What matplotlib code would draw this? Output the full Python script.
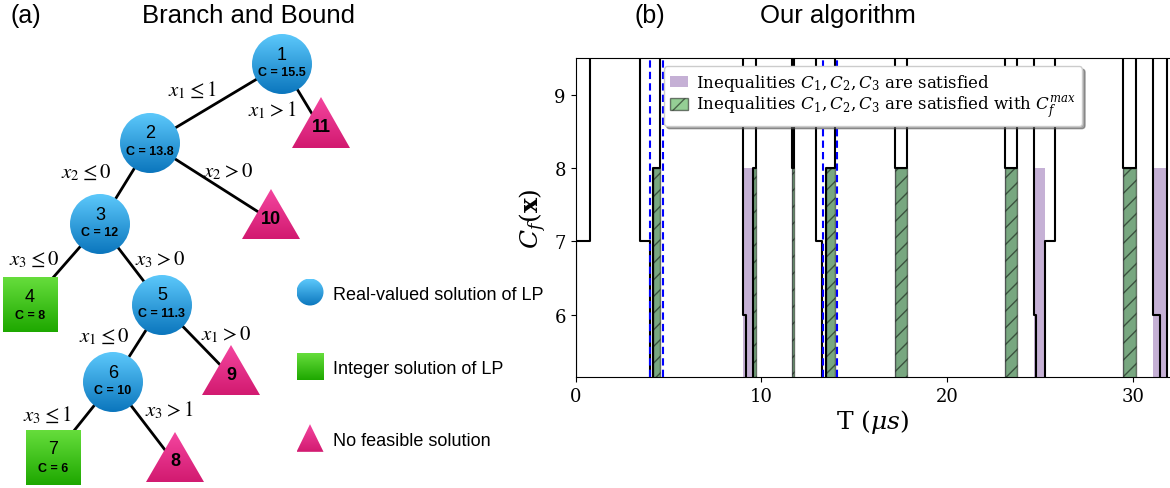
import numpy as np
import matplotlib
matplotlib.use("Agg")
import matplotlib.pyplot as plt
from matplotlib.patches import Circle, Rectangle, Polygon, Patch
from matplotlib.colors import LinearSegmentedColormap

# ---------------- data: branch and bound tree ----------------
node_ids = [1, 2, 3, 4, 5, 6, 7, 8, 9, 10, 11]
node_kind = ["real", "real", "real", "int", "real", "real", "int", "none", "none", "none", "none"]
node_cost = ["15.5", "13.8", "12", "8", "11.3", "10", "6", "", "", "", ""]
edges = [(1, 2), (1, 11), (2, 3), (2, 10), (3, 4), (3, 5), (5, 6), (5, 9), (6, 7), (6, 8)]
edge_labels = [r"$x_1 \leq 1$", r"$x_1 > 1$", r"$x_2 \leq 0$", r"$x_2 > 0$", r"$x_3 \leq 0$",
               r"$x_3 > 0$", r"$x_1 \leq 0$", r"$x_1 > 0$", r"$x_3 \leq 1$", r"$x_3 > 1$"]
legend_kinds = ["real", "int", "none"]
legend_texts = ["Real-valued solution of LP", "Integer solution of LP", "No feasible solution"]

# ---------------- data: our algorithm ----------------
# step curve of C_f(x) (value holds from each T to the next); 10 = above plot, 5 = below plot
T_steps = [-1, 0, 0.78, 3.48, 4.0, 4.15, 4.54, 9.02, 9.17, 9.56, 9.69, 11.63, 11.75,
           12.91, 13.27, 13.45, 13.97, 17.2, 17.84, 23.09, 23.72, 24.65, 24.74, 25.24,
           25.78, 29.45, 30.12, 31.05, 31.43, 31.8, 33]
Cf_steps = [5, 7, 10, 7, 5, 8, 10, 6, 5, 8, 10, 8, 10,
            7, 5, 8, 10, 8, 10, 8, 10, 6, 5, 7,
            10, 8, 10, 6, 5, 10, 10]
sat_only = [(9.02, 9.56), (24.67, 25.24), (31.05, 31.8)]
sat_max = [(4.15, 4.55), (9.56, 9.69), (11.63, 11.75), (13.45, 13.97),
           (17.2, 17.84), (23.09, 23.72), (29.45, 30.12)]
Cf_max = 8
blue_lines = [4.0, 4.69, 13.29, 14.08]
x_ticks = [0, 10, 20, 30]
y_ticks = [6, 7, 8, 9]

# ---------------- layout (pixel coordinates of the left diagram) ----------------
circle_pos = {1: (282, 65), 2: (150, 144), 3: (100, 225), 5: (162, 306), 6: (113, 383)}
square_pos = {4: (30, 305), 7: (53, 458)}
tri_pos = {11: (321, 98, 149), 10: (271, 190, 240), 9: (231, 346, 396), 8: (175, 433, 483)}
label_pos = [(192, 90), (272, 110), (86, 173), (228, 172), (34, 260),
             (160, 260), (104, 337), (226, 335), (47, 415), (169, 410)]
R = 30
SQ = 55

cmaps = {
    "real": LinearSegmentedColormap.from_list("b", ["#5cc8fb", "#0b76bd"]),
    "int": LinearSegmentedColormap.from_list("g", ["#66dd3c", "#1ea800"]),
    "none": LinearSegmentedColormap.from_list("p", ["#f4459f", "#d21a70"]),
}
grad = np.linspace(0, 1, 100).reshape(-1, 1)
SANS = "Liberation Sans"
SERIF = "DejaVu Serif"

W, H = 1170, 489
fig = plt.figure(figsize=(W / 100, H / 100), dpi=100)

axL = fig.add_axes([0, 0, 573 / W, 1])
axL.set_xlim(0, 573)
axL.set_ylim(H, 0)
axL.axis("off")


def shaded(ax, patch, kind, bbox, z=3):
    patch.set_facecolor("none")
    patch.set_edgecolor("none")
    patch.set_zorder(z)
    ax.add_patch(patch)
    x0, x1, y0, y1 = bbox
    im = ax.imshow(grad, extent=(x0, x1, y1, y0), cmap=cmaps[kind], aspect="auto",
                   zorder=z, interpolation="bilinear")
    im.set_clip_path(patch)


def make_shape(kind, cx, cy, size):
    h = size / 2
    if kind == "real":
        return Circle((cx, cy), h), (cx - h, cx + h, cy - h, cy + h)
    if kind == "int":
        return Rectangle((cx - h, cy - h), size, size), (cx - h, cx + h, cy - h, cy + h)
    top, bot = cy - h * 1.1, cy + h * 0.95
    return (Polygon([(cx - h, bot), (cx + h, bot), (cx, top)], closed=True),
            (cx - h, cx + h, top, bot))


def anchor(n):
    if n in circle_pos:
        return circle_pos[n]
    if n in square_pos:
        return square_pos[n]
    cx, top, bot = tri_pos[n]
    return cx, top + 0.62 * (bot - top)


# edges
for (a, b), lab, (lx, ly) in zip(edges, edge_labels, label_pos):
    xa, ya = anchor(a)
    xb, yb = anchor(b)
    axL.plot([xa, xb], [ya, yb], color="black", lw=2, zorder=1, solid_capstyle="butt")
    axL.text(lx, ly, lab, fontsize=15, ha="center", va="center", zorder=5,
             math_fontfamily="stix")

# nodes
for n, kind, cost in zip(node_ids, node_kind, node_cost):
    if kind == "real":
        cx, cy = circle_pos[n]
        shaded(axL, Circle((cx, cy), R), kind, (cx - R, cx + R, cy - R, cy + R))
        axL.text(cx, cy - 10, str(n), fontsize=13, ha="center", va="center", family=SANS, zorder=6)
        axL.text(cx, cy + 8, "C = " + cost, fontsize=9, fontweight="bold", ha="center",
                 va="center", family=SANS, zorder=6)
    elif kind == "int":
        cx, cy = square_pos[n]
        h = SQ / 2
        shaded(axL, Rectangle((cx - h, cy - h), SQ, SQ), kind, (cx - h, cx + h, cy - h, cy + h))
        axL.text(cx, cy - 8, str(n), fontsize=13, ha="center", va="center", family=SANS, zorder=6)
        axL.text(cx, cy + 11, "C = " + cost, fontsize=9, fontweight="bold", ha="center",
                 va="center", family=SANS, zorder=6)
    else:
        cx, top, bot = tri_pos[n]
        h = 29
        shaded(axL, Polygon([(cx - h, bot), (cx + h, bot), (cx, top)], closed=True), kind,
               (cx - h, cx + h, top, bot))
        axL.text(cx, bot - 21, str(n), fontsize=13, fontweight="bold", ha="center",
                 va="center", family=SANS, zorder=6)

# legend of the diagram
for kind, txt, ly in zip(legend_kinds, legend_texts, [293, 367, 440]):
    shape, bb = make_shape(kind, 310, ly, 27)
    shaded(axL, shape, kind, bb)
    axL.text(333, ly + 2, txt, fontsize=13, ha="left", va="center", family=SANS)

axL.set_xlim(0, 573)
axL.set_ylim(H, 0)

# ---------------- right panel ----------------
plt.rcParams["mathtext.fontset"] = "dejavuserif"
axR = fig.add_axes([575.5 / W, 1 - 378 / H, (1170.5 - 575.5) / W, (378 - 59) / H])
purple = "#c5b0d5"
for a, b in sat_only + sat_max:
    axR.fill_between([a, b], 0, Cf_max, color=purple, lw=0, zorder=1)
for a, b in sat_max:
    axR.fill_between([a, b], 0, Cf_max, facecolor="tab:green", edgecolor="k",
                     alpha=0.5, hatch="//", lw=1, zorder=2)
axR.step(T_steps, Cf_steps, where="post", color="black", lw=1.5, zorder=3)
for xv in blue_lines:
    axR.axvline(xv, color="blue", ls=(0, (3.5, 2)), lw=1.5, zorder=4)

axR.set_xlim(0, 32)
axR.set_ylim(5.15, 9.5)
axR.set_xticks(x_ticks, labels=[str(v) for v in x_ticks], fontfamily=SERIF, fontsize=13)
axR.set_yticks(y_ticks, labels=[str(v) for v in y_ticks], fontfamily=SERIF, fontsize=13)
axR.set_xlabel(r"T ($\mu s$)", fontsize=18, family=SERIF, labelpad=2)
axR.set_ylabel(r"$C_f(\mathbf{x})$", fontsize=18, labelpad=4)

handles = [Patch(facecolor=purple, edgecolor="none"),
           Patch(facecolor="tab:green", edgecolor="k", alpha=0.5, hatch="//")]
labels = [r"Inequalities $C_1, C_2, C_3$ are satisfied",
          r"Inequalities $C_1, C_2, C_3$ are satisfied with $C_f^{max}$"]
leg = axR.legend(handles, labels, loc="upper center", shadow=True, framealpha=1,
                 prop={"family": SERIF, "size": 12}, handlelength=1.1,
                 handletextpad=0.5, borderaxespad=0.5, labelspacing=0.05,
                 borderpad=0.35)
leg.set_zorder(10)

# titles
fig.text(10 / W, 1 - 16 / H, "(a)", fontsize=18, family=SANS, va="center", ha="left")
fig.text(248 / W, 1 - 16 / H, "Branch and Bound", fontsize=18.5, family=SANS, va="center", ha="center")
fig.text(650 / W, 1 - 16 / H, "(b)", fontsize=18, family=SANS, va="center", ha="center")
fig.text(838 / W, 1 - 16 / H, "Our algorithm", fontsize=18.5, family=SANS, va="center", ha="center")

fig.savefig("out.png", dpi=100)
